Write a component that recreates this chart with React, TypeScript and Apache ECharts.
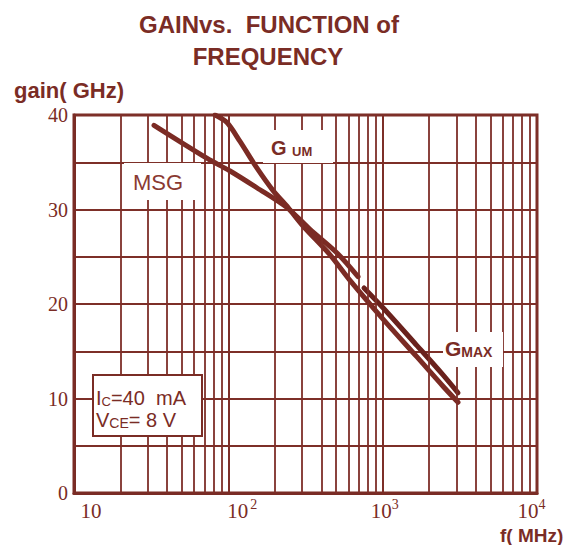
import React, { useEffect, useRef } from 'react';
import * as echarts from 'echarts';

const COLOR = '#7a2c25';
const GRID_COLOR = '#7d2f28';

// Frequency (MHz) / gain (dB)
const msgFreq = [33, 73, 102, 153, 240, 338, 506, 692];
const msgGain = [38.9, 35.4, 34.1, 32.3, 30.2, 27.9, 25.4, 22.9];

const gumFreq = [82, 98, 119, 153, 195, 244, 305, 456, 614, 1005, 1668, 2460, 3077];
const gumGain = [40, 39.2, 37.2, 34.4, 32.0, 30.2, 28.25, 25.2, 22.5, 18.4, 14.4, 11.3, 9.6];

const gmaxFreq = [757, 1005, 1668, 2460, 3077];
const gmaxGain = [21.7, 19.6, 15.6, 12.5, 10.6];

// minor vertical grid lines of the log axis
const xMinorLines = [
  20, 30, 40, 50, 60, 70, 80, 90,
  200, 300, 400, 500, 600, 700, 800, 900,
  2000, 3000, 4000, 5000, 6000, 7000, 8000, 9000,
];

const xMin = 10;
const xMax = 10000;
const yMin = 0;
const yMax = 40;
const yStep = 5;

export default function App() {
  const ref = useRef<HTMLDivElement>(null);

  useEffect(() => {
    const chart = echarts.init(ref.current!, null, { renderer: 'svg' });
    const zip = (xs: number[], ys: number[]) => xs.map((x, i) => [x, ys[i]]);
    const curve = (name: string, xs: number[], ys: number[], color: string) => ({
      type: 'line',
      name,
      data: zip(xs, ys),
      smooth: 0.3,
      symbol: 'none',
      z: 3,
      silent: true,
      lineStyle: { color, width: 5, cap: 'round' },
    });

    const sans = 'Liberation Sans, Arial, sans-serif';
    const serif = 'Liberation Serif, Times New Roman, serif';

    chart.setOption({
      animation: false,
      backgroundColor: '#ffffff',
      grid: {
        left: 74,
        right: 35,
        top: 115,
        bottom: 52,
        show: true,
        borderColor: COLOR,
        borderWidth: 3,
        containLabel: false,
        outerBoundsMode: 'none',
      },
      xAxis: {
        type: 'log',
        logBase: 10,
        min: xMin,
        max: xMax,
        axisLine: { show: true, lineStyle: { color: COLOR, width: 3 } },
        axisTick: { show: false },
        splitLine: { show: true, lineStyle: { color: GRID_COLOR, width: 2 } },
        axisLabel: {
          showMinLabel: true,
          showMaxLabel: true,
          margin: 4,
          color: COLOR,
          formatter: (v: number) => {
            const e = Math.round(Math.log10(v));
            if (e === 1) return '{p1|10}';
            return `{b${e}|10}{s${e}|${e}}`;
          },
          rich: {
            p1: { fontFamily: serif, fontSize: 21, color: COLOR, lineHeight: 24, verticalAlign: 'bottom', padding: [0, 0, 0, 34] },
            b2: { fontFamily: serif, fontSize: 21, color: COLOR, lineHeight: 24, verticalAlign: 'bottom', padding: [0, 0, 0, 28] },
            s2: { fontFamily: serif, fontSize: 14, color: COLOR, verticalAlign: 'top', padding: [0, 0, 0, 2] },
            b3: { fontFamily: serif, fontSize: 21, color: COLOR, lineHeight: 24, verticalAlign: 'bottom', padding: [0, 0, 0, 4] },
            s3: { fontFamily: serif, fontSize: 14, color: COLOR, verticalAlign: 'top' },
            b4: { fontFamily: serif, fontSize: 21, color: COLOR, lineHeight: 24, verticalAlign: 'bottom' },
            s4: { fontFamily: serif, fontSize: 14, color: COLOR, verticalAlign: 'top', padding: [0, 11, 0, 0] },
          },
        },
      },
      yAxis: {
        type: 'value',
        min: yMin,
        max: yMax,
        interval: yStep,
        axisLine: { show: true, lineStyle: { color: COLOR, width: 3 } },
        axisTick: { show: false },
        splitLine: { show: true, lineStyle: { color: GRID_COLOR, width: 2 } },
        axisLabel: {
          margin: 6,
          color: COLOR,
          fontFamily: serif,
          fontSize: 20,
          formatter: (v: number) => (v % 10 === 0 ? String(v) : ''),
        },
      },
      series: [
        {
          type: 'line',
          name: 'minor-grid',
          data: [],
          z: 1,
          silent: true,
          markLine: {
            silent: true,
            symbol: ['none', 'none'],
            label: { show: false },
            emphasis: { disabled: true },
            lineStyle: { color: GRID_COLOR, width: 2, type: 'solid', opacity: 0.9 },
            data: xMinorLines.map((v) => ({ xAxis: v })),
          },
        },
        curve('MSG', msgFreq, msgGain, '#7b2b24'),
        curve('G UM', gumFreq, gumGain, '#7b2b24'),
        curve('G MAX', gmaxFreq, gmaxGain, '#6a221d'),
      ],
      graphic: [
        {
          type: 'text',
          z: 20,
          style: { text: 'GAINvs.  FUNCTION of', x: 269, y: 24, align: 'center', verticalAlign: 'middle', fill: COLOR, font: `bold 24px ${sans}` },
        },
        {
          type: 'text',
          z: 20,
          style: { text: 'FREQUENCY', x: 268, y: 56, align: 'center', verticalAlign: 'middle', fill: COLOR, font: `bold 24px ${sans}` },
        },
        {
          type: 'text',
          z: 20,
          style: { text: 'gain( GHz)', x: 14, y: 90, align: 'left', verticalAlign: 'middle', fill: COLOR, font: `bold 22px ${sans}` },
        },
        {
          type: 'text',
          z: 20,
          style: { text: 'f( MHz)', x: 500, y: 535, align: 'left', verticalAlign: 'middle', fill: COLOR, font: `bold 19px ${sans}` },
        },
        // label backgrounds
        { type: 'rect', z: 10, shape: { x: 124, y: 163, width: 77, height: 37 }, style: { fill: '#ffffff' } },
        { type: 'rect', z: 10, shape: { x: 263, y: 130, width: 70, height: 33 }, style: { fill: '#ffffff' } },
        { type: 'rect', z: 10, shape: { x: 443, y: 332, width: 60, height: 35 }, style: { fill: '#ffffff' } },
        {
          type: 'text',
          z: 20,
          style: { text: 'MSG', x: 133, y: 182, align: 'left', verticalAlign: 'middle', fill: '#8a3a32', font: `22px ${sans}` },
        },
        {
          type: 'text',
          z: 20,
          style: {
            text: '{g|G }{s|UM}',
            x: 271,
            y: 158,
            align: 'left',
            verticalAlign: 'bottom',
            rich: {
              g: { fontFamily: sans, fontWeight: 'bold', fontSize: 20, fill: COLOR, verticalAlign: 'bottom' },
              s: { fontFamily: sans, fontWeight: 'bold', fontSize: 13, fill: COLOR, verticalAlign: 'bottom' },
            },
          },
        },
        {
          type: 'text',
          z: 20,
          style: {
            text: '{g|G}{s|MAX}',
            x: 445,
            y: 359,
            align: 'left',
            verticalAlign: 'bottom',
            rich: {
              g: { fontFamily: sans, fontWeight: 'bold', fontSize: 21, fill: COLOR, verticalAlign: 'bottom' },
              s: { fontFamily: sans, fontWeight: 'bold', fontSize: 14, fill: COLOR, verticalAlign: 'bottom' },
            },
          },
        },
        // conditions box
        {
          type: 'rect',
          z: 10,
          shape: { x: 93, y: 375, width: 109, height: 61 },
          style: { fill: '#ffffff', stroke: COLOR, lineWidth: 2 },
        },
        {
          type: 'text',
          z: 20,
          style: {
            text: '{b|I}{s|C}{b|=40  mA}\n{b|V}{c|CE}{b|= 8 V}',
            x: 96,
            y: 386,
            align: 'left',
            verticalAlign: 'top',
            rich: {
              b: { fontFamily: sans, fontSize: 20, fill: COLOR, lineHeight: 22, verticalAlign: 'bottom' },
              s: { fontFamily: sans, fontSize: 13, fill: COLOR, verticalAlign: 'bottom' },
              c: { fontFamily: sans, fontSize: 14, fill: COLOR, verticalAlign: 'bottom' },
            },
          },
        },
      ],
    });
    return () => chart.dispose();
  }, []);

  return (
    <div
      ref={ref}
      style={{ position: 'fixed', left: 0, top: 0, width: 572, height: 545, background: '#ffffff' }}
    />
  );
}
